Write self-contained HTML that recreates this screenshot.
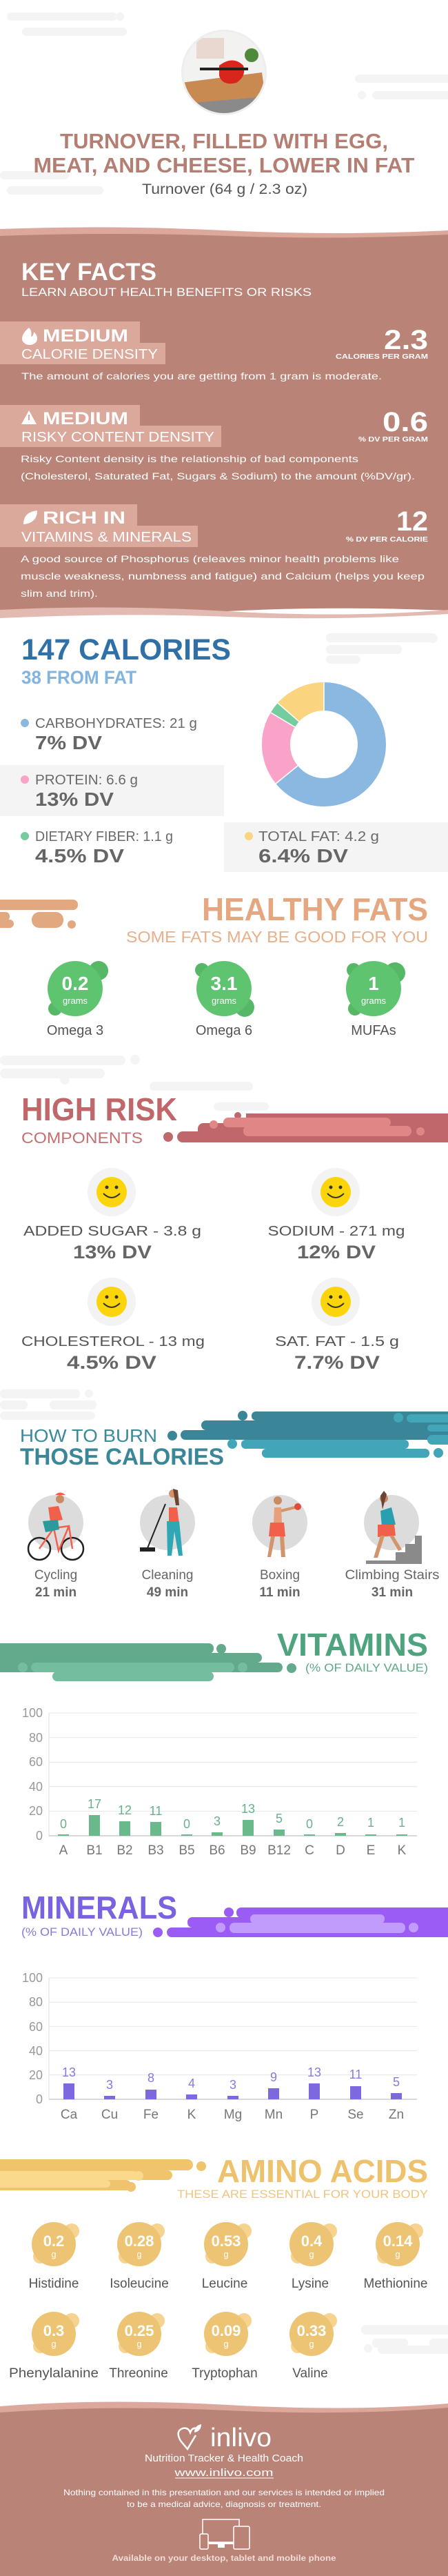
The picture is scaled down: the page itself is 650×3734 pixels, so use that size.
<!DOCTYPE html>
<html><head><meta charset="utf-8"><style>html,body{margin:0;padding:0;background:#fff}svg{display:block}text{font-family:"Liberation Sans",sans-serif}</style></head><body>
<svg width="650" height="3734" viewBox="0 0 650 3734" xmlns="http://www.w3.org/2000/svg">
<rect width="650" height="3734" fill="#fff"/>
<!-- top clouds -->
<g fill="#f4f4f4"><rect x="10" y="18" width="160" height="12" rx="6"/><rect x="32" y="40" width="152" height="12" rx="6"/><circle cx="174" cy="24" r="6"/><rect x="515" y="108" width="140" height="12" rx="6"/><rect x="540" y="132" width="120" height="12" rx="6"/><circle cx="525" cy="138" r="6"/><rect x="0" y="248" width="100" height="12" rx="6"/><rect x="10" y="270" width="140" height="12" rx="6"/></g>
<!-- photo -->
<circle cx="325" cy="105" r="62" fill="#eee"/>
<clipPath id="ph"><circle cx="325" cy="105" r="59"/></clipPath>
<g clip-path="url(#ph)"><rect x="260" y="40" width="130" height="130" fill="#f2f2f0"/><rect x="260" y="130" width="130" height="40" fill="#8a8a8a"/><polygon points="262,120 380,105 385,140 270,150" fill="#c98a52"/><path d="M318 95 q20 -15 35 0 q5 15 -10 25 q-20 5 -25 -10z" fill="#d8261c"/><rect x="290" y="98" width="70" height="4" fill="#222"/><circle cx="365" cy="80" r="10" fill="#4f8a3a"/><rect x="285" y="55" width="40" height="30" fill="#e9d8cf"/></g>
<text x="325" y="215" text-anchor="middle" font-size="31" font-weight="bold" fill="#b57e72" textLength="476" lengthAdjust="spacingAndGlyphs">TURNOVER, FILLED WITH EGG,</text>
<text x="325" y="250" text-anchor="middle" font-size="31" font-weight="bold" fill="#b57e72" textLength="553" lengthAdjust="spacingAndGlyphs">MEAT, AND CHEESE, LOWER IN FAT</text>
<text x="326" y="281" text-anchor="middle" font-size="21" fill="#555" textLength="240" lengthAdjust="spacingAndGlyphs">Turnover (64 g / 2.3 oz)</text>
<!-- brown section -->
<path d="M0 332 Q160 326 325 334 T650 334 V345 H0Z" fill="#dca89c"/>
<path d="M0 342 Q170 336 330 342 T650 340 V885 Q480 878 330 886 T0 884Z" fill="#ba8377"/>
<path d="M0 884 Q160 876 330 886 T650 884 V890 Q480 900 330 894 T0 896Z" fill="#e2bab2"/>
<text x="31" y="406" font-size="35" font-weight="bold" fill="#fff" textLength="196" lengthAdjust="spacingAndGlyphs">KEY FACTS</text>
<text x="31" y="429" font-size="17" fill="#fff" textLength="421" lengthAdjust="spacingAndGlyphs">LEARN ABOUT HEALTH BENEFITS OR RISKS</text>
<g fill="#dba89c"><rect x="0" y="466" width="203" height="32"/><rect x="0" y="497" width="240" height="31"/><rect x="0" y="587" width="203" height="31"/><rect x="0" y="617" width="321" height="31"/><rect x="0" y="731" width="199" height="32"/><rect x="0" y="762" width="287" height="31"/></g>
<path d="M42 475 q-10 8 -10 16 a11 9 0 0 0 22 0 q0 -6 -5 -10 q0 6 -4 7 q2 -8 -3 -13z" fill="#fff"/>
<text x="62" y="495" font-size="25" font-weight="bold" fill="#fff" textLength="124" lengthAdjust="spacingAndGlyphs">MEDIUM</text>
<text x="31" y="520" font-size="20" fill="#fff" textLength="198" lengthAdjust="spacingAndGlyphs">CALORIE DENSITY</text>
<text x="621" y="506" text-anchor="end" font-size="40" font-weight="bold" fill="#fff" textLength="64" lengthAdjust="spacingAndGlyphs">2.3</text>
<text x="621" y="520" text-anchor="end" font-size="10" font-weight="bold" fill="#fff" textLength="134" lengthAdjust="spacingAndGlyphs">CALORIES PER GRAM</text>
<text x="31" y="550" font-size="14" fill="#fff" textLength="523" lengthAdjust="spacingAndGlyphs">The amount of calories you are getting from 1 gram is moderate.</text>
<polygon points="42,595 31,615 53,615" fill="#fff"/><rect x="41" y="601" width="2" height="8" fill="#dba89c"/>
<text x="62" y="615" font-size="25" font-weight="bold" fill="#fff" textLength="124" lengthAdjust="spacingAndGlyphs">MEDIUM</text>
<text x="31" y="640" font-size="20" fill="#fff" textLength="280" lengthAdjust="spacingAndGlyphs">RISKY CONTENT DENSITY</text>
<text x="621" y="625" text-anchor="end" font-size="40" font-weight="bold" fill="#fff" textLength="66" lengthAdjust="spacingAndGlyphs">0.6</text>
<text x="621" y="640" text-anchor="end" font-size="10" font-weight="bold" fill="#fff" textLength="101" lengthAdjust="spacingAndGlyphs">% DV PER GRAM</text>
<text x="30" y="670" font-size="14" fill="#fff" textLength="490" lengthAdjust="spacingAndGlyphs">Risky Content density is the relationship of bad components</text>
<text x="30" y="695" font-size="14" fill="#fff" textLength="572" lengthAdjust="spacingAndGlyphs">(Cholesterol, Saturated Fat, Sugars &amp; Sodium) to the amount (%DV/gr).</text>
<path d="M34 760 q0 -18 20 -20 q0 18 -20 20z" fill="#fff"/>
<text x="62" y="759" font-size="25" font-weight="bold" fill="#fff" textLength="120" lengthAdjust="spacingAndGlyphs">RICH  IN</text>
<text x="31" y="785" font-size="20" fill="#fff" textLength="247" lengthAdjust="spacingAndGlyphs">VITAMINS &amp; MINERALS</text>
<text x="621" y="769" text-anchor="end" font-size="40" font-weight="bold" fill="#fff" textLength="46" lengthAdjust="spacingAndGlyphs">12</text>
<text x="621" y="785" text-anchor="end" font-size="10" font-weight="bold" fill="#fff" textLength="119" lengthAdjust="spacingAndGlyphs">% DV PER CALORIE</text>
<text x="30" y="815" font-size="14" fill="#fff" textLength="549" lengthAdjust="spacingAndGlyphs">A good source of Phosphorus (releaves minor health problems like</text>
<text x="30" y="840" font-size="14" fill="#fff" textLength="586" lengthAdjust="spacingAndGlyphs">muscle weakness, numbness and fatigue) and Calcium (helps you keep</text>
<text x="30" y="865" font-size="14" fill="#fff" textLength="112" lengthAdjust="spacingAndGlyphs">slim and trim).</text>
<!-- calories -->
<g fill="#f4f4f4"><rect x="473" y="918" width="160" height="13" rx="6"/><circle cx="628" cy="925" r="7"/><rect x="473" y="935" width="110" height="13" rx="6"/><rect x="473" y="950" width="50" height="12" rx="6"/></g>
<text x="31" y="956" font-size="43" font-weight="bold" fill="#2f70a6" textLength="304" lengthAdjust="spacingAndGlyphs">147 CALORIES</text>
<text x="31" y="991" font-size="27" font-weight="bold" fill="#82b4de" textLength="167" lengthAdjust="spacingAndGlyphs">38 FROM FAT</text>
<rect x="0" y="1109" width="325" height="74" fill="#f4f4f4"/><rect x="325" y="1192" width="325" height="72" fill="#f4f4f4"/>
<g transform="rotate(-90 470 1079)" fill="none" stroke-width="41">
<circle cx="470" cy="1079" r="69.5" stroke="#8ab8e0" stroke-dasharray="280.2 436.7"/>
<circle cx="470" cy="1079" r="69.5" stroke="#f9a3c9" stroke-dasharray="84.9 436.7" stroke-dashoffset="-280.2"/>
<circle cx="470" cy="1079" r="69.5" stroke="#75cc9e" stroke-dasharray="13.3 436.7" stroke-dashoffset="-365.1"/>
<circle cx="470" cy="1079" r="69.5" stroke="#fad47e" stroke-dasharray="58.3 436.7" stroke-dashoffset="-378.4"/>
</g>
<g stroke="#fff" stroke-width="1.5"><line x1="470" y1="989" x2="470" y2="1030"/><line x1="400" y1="1136" x2="432" y2="1110"/><line x1="393" y1="1033" x2="428" y2="1054"/><line x1="403" y1="1019" x2="434" y2="1046"/></g>
<circle cx="36" cy="1048" r="6" fill="#8ab8e0"/>
<text x="51" y="1055" font-size="20" fill="#6a6a6a" textLength="235" lengthAdjust="spacingAndGlyphs">CARBOHYDRATES: 21 g</text>
<text x="51" y="1086" font-size="28" font-weight="bold" fill="#666" textLength="97" lengthAdjust="spacingAndGlyphs">7% DV</text>
<circle cx="36" cy="1130" r="6" fill="#f9a3c9"/>
<text x="51" y="1137" font-size="20" fill="#6a6a6a" textLength="149" lengthAdjust="spacingAndGlyphs">PROTEIN: 6.6 g</text>
<text x="51" y="1168" font-size="28" font-weight="bold" fill="#666" textLength="114" lengthAdjust="spacingAndGlyphs">13% DV</text>
<circle cx="36" cy="1212" r="6" fill="#75cc9e"/>
<text x="51" y="1219" font-size="20" fill="#6a6a6a" textLength="200" lengthAdjust="spacingAndGlyphs">DIETARY FIBER: 1.1 g</text>
<text x="51" y="1250" font-size="28" font-weight="bold" fill="#666" textLength="129" lengthAdjust="spacingAndGlyphs">4.5% DV</text>
<circle cx="361" cy="1212" r="6" fill="#fad47e"/>
<text x="375" y="1219" font-size="20" fill="#6a6a6a" textLength="175" lengthAdjust="spacingAndGlyphs">TOTAL FAT: 4.2 g</text>
<text x="375" y="1250" font-size="28" font-weight="bold" fill="#666" textLength="130" lengthAdjust="spacingAndGlyphs">6.4% DV</text>
<!-- healthy fats -->
<g fill="#e2a880"><rect x="-10" y="1304" width="123" height="15" rx="7"/><rect x="-10" y="1322" width="24" height="13" rx="6"/><rect x="46" y="1322" width="46" height="23" rx="11"/><circle cx="104" cy="1340" r="6"/><rect x="-10" y="1333" width="30" height="12" rx="6"/></g>
<text x="621" y="1334" text-anchor="end" font-size="46" font-weight="bold" fill="#e5a77f" textLength="328" lengthAdjust="spacingAndGlyphs">HEALTHY FATS</text>
<text x="621" y="1366" text-anchor="end" font-size="23" fill="#e8b08a" textLength="438" lengthAdjust="spacingAndGlyphs">SOME FATS MAY BE GOOD FOR YOU</text>
<g fill="#56b866"><circle cx="143" cy="1407" r="14"/><circle cx="80" cy="1462" r="10"/><circle cx="293" cy="1406" r="10"/><circle cx="355" cy="1460" r="14"/><circle cx="513" cy="1406" r="10"/><circle cx="573" cy="1410" r="15"/><circle cx="515" cy="1462" r="10"/></g>
<g fill="#5fc470"><circle cx="109" cy="1433" r="40"/><circle cx="325" cy="1433" r="40"/><circle cx="542" cy="1433" r="40"/></g>
<g fill="#fff" text-anchor="middle"><text x="109" y="1435" font-size="28" font-weight="bold">0.2</text><text x="325" y="1435" font-size="28" font-weight="bold">3.1</text><text x="542" y="1435" font-size="28" font-weight="bold">1</text><text x="109" y="1455" font-size="13">grams</text><text x="325" y="1455" font-size="13">grams</text><text x="542" y="1455" font-size="13">grams</text></g>
<g fill="#555" text-anchor="middle" font-size="20"><text x="109" y="1500">Omega 3</text><text x="325" y="1500">Omega 6</text><text x="542" y="1500">MUFAs</text></g>
<!-- high risk -->
<g fill="#f4f4f4"><rect x="0" y="1530" width="182" height="14" rx="7"/><circle cx="196" cy="1536" r="7"/><rect x="0" y="1549" width="152" height="14" rx="7"/><circle cx="94" cy="1565" r="7"/><rect x="217" y="1568" width="150" height="13" rx="6"/><rect x="310" y="1598" width="80" height="12" rx="6"/></g>
<text x="31" y="1624" font-size="46" font-weight="bold" fill="#c0676a" textLength="226" lengthAdjust="spacingAndGlyphs">HIGH RISK</text>
<text x="31" y="1657" font-size="22" fill="#c66f70" textLength="176" lengthAdjust="spacingAndGlyphs">COMPONENTS</text>
<g fill="#bf676a"><rect x="357" y="1614" width="320" height="42"/><rect x="287" y="1628" width="90" height="28" rx="8"/><rect x="257" y="1640" width="60" height="16" rx="8"/><circle cx="244" cy="1648" r="7"/><circle cx="345" cy="1617" r="5"/></g>
<g fill="#e08687"><rect x="324" y="1620" width="243" height="14" rx="7"/><rect x="353" y="1632" width="244" height="15" rx="7"/><circle cx="310" cy="1630" r="6"/><circle cx="610" cy="1640" r="6"/></g>
<g><circle cx="162" cy="1728" r="35" fill="#f3f3f3"/><circle cx="487" cy="1728" r="35" fill="#f3f3f3"/><circle cx="162" cy="1887" r="35" fill="#f3f3f3"/><circle cx="487" cy="1887" r="35" fill="#f3f3f3"/></g>
<g id="sm"><circle cx="162" cy="1728" r="22" fill="#fcd40a"/><circle cx="155" cy="1721" r="2.5" fill="#333"/><circle cx="169" cy="1721" r="2.5" fill="#333"/><path d="M150 1730 q12 12 24 0" stroke="#333" stroke-width="2" fill="none"/></g>
<use href="#sm" x="325"/><use href="#sm" y="159"/><use href="#sm" x="325" y="159"/>
<g fill="#555" text-anchor="middle" font-size="20"><text x="163" y="1791" textLength="258" lengthAdjust="spacingAndGlyphs">ADDED SUGAR - 3.8 g</text><text x="488" y="1791" textLength="199" lengthAdjust="spacingAndGlyphs">SODIUM - 271 mg</text><text x="164" y="1951" textLength="266" lengthAdjust="spacingAndGlyphs">CHOLESTEROL - 13 mg</text><text x="489" y="1951" textLength="180" lengthAdjust="spacingAndGlyphs">SAT. FAT - 1.5 g</text></g>
<g fill="#666" text-anchor="middle" font-size="27" font-weight="bold"><text x="163" y="1824" textLength="114" lengthAdjust="spacingAndGlyphs">13% DV</text><text x="488" y="1824" textLength="114" lengthAdjust="spacingAndGlyphs">12% DV</text><text x="162" y="1984" textLength="130" lengthAdjust="spacingAndGlyphs">4.5% DV</text><text x="489" y="1984" textLength="124" lengthAdjust="spacingAndGlyphs">7.7% DV</text></g>
<!-- burn -->
<g fill="#f4f4f4"><rect x="0" y="2014" width="116" height="13" rx="6"/><circle cx="129" cy="2020" r="6"/><rect x="0" y="2030" width="40" height="13" rx="6"/><rect x="72" y="2030" width="68" height="13" rx="6"/><rect x="0" y="2046" width="138" height="12" rx="6"/></g>
<g fill="#3a8597"><rect x="365" y="2046" width="300" height="13" rx="6"/><circle cx="352" cy="2052" r="7"/><rect x="292" y="2059" width="370" height="14" rx="7"/><rect x="262" y="2073" width="400" height="14" rx="7"/><circle cx="250" cy="2081" r="7"/></g>
<g fill="#42a5b8"><rect x="590" y="2050" width="70" height="12" rx="6"/><circle cx="578" cy="2055" r="7"/><rect x="620" y="2065" width="40" height="10" rx="5"/><rect x="350" y="2087" width="243" height="13" rx="6"/><circle cx="337" cy="2093" r="7"/><rect x="380" y="2100" width="243" height="13" rx="6"/><circle cx="636" cy="2106" r="7"/><rect x="620" y="2080" width="40" height="14" rx="7"/></g>
<text x="29" y="2090" font-size="26" fill="#3b8a9b" textLength="199" lengthAdjust="spacingAndGlyphs">HOW TO BURN</text>
<text x="29" y="2123" font-size="34" font-weight="bold" fill="#3a8797" textLength="296" lengthAdjust="spacingAndGlyphs">THOSE CALORIES</text>
<g fill="#dcdcdc"><circle cx="81" cy="2207" r="40"/><circle cx="243" cy="2207" r="40"/><circle cx="406" cy="2207" r="40"/><circle cx="568" cy="2207" r="40"/></g>
<!-- cyclist -->
<g fill="none" stroke="#222" stroke-width="2.5"><circle cx="57" cy="2245" r="16"/><circle cx="105" cy="2245" r="16"/></g>
<g stroke="#f0604a" stroke-width="2.5" fill="none"><path d="M57 2245 L78 2215 L100 2212 L105 2245 M78 2215 L85 2248 L100 2212"/></g>
<path d="M70 2185 l15 -2 l6 20 l-18 3z" fill="#f0604a"/><path d="M62 2205 l22 -2 l2 14 l-20 4z" fill="#2a9a9b"/><circle cx="87" cy="2173" r="6" fill="#c98b63"/><path d="M80 2167 q7 -7 15 0z" fill="#f0604a"/>
<!-- cleaner -->
<line x1="214" y1="2244" x2="240" y2="2180" stroke="#222" stroke-width="2"/><rect x="203" y="2243" width="22" height="6" fill="#222"/><path d="M245 2185 l12 0 l3 25 l-15 0z" fill="#f0604a"/><path d="M242 2205 l18 0 l5 50 l-6 0 l-6 -35 l-4 35 l-6 0z" fill="#30a7b5"/><circle cx="251" cy="2165" r="6" fill="#d2946b"/><path d="M251 2158 l7 2 l2 22 l-5 0z" fill="#6b4532"/>
<!-- boxer -->
<path d="M398 2185 l10 0 l1 22 l-12 0z" fill="#e8a07a"/><path d="M392 2207 l20 0 l2 20 l-24 0z" fill="#f0604a"/><path d="M393 2227 l6 0 l-6 30 l-5 0z M406 2227 l6 0 l2 30 l-6 0z" fill="#d2946b"/><line x1="408" y1="2190" x2="428" y2="2185" stroke="#d2946b" stroke-width="4"/><circle cx="432" cy="2184" r="5" fill="#e24b3c"/><circle cx="403" cy="2175" r="6" fill="#c98b63"/>
<!-- stairs -->
<path d="M531 2267 h81 v-41 h-10 v12 h-14 v12 h-14 v12 h-43z" fill="#8a8a8a"/><path d="M552 2190 l16 -5 l6 25 l-20 3z" fill="#2a9fb0"/><path d="M548 2210 l24 0 l2 16 l-26 2z" fill="#f0604a"/><path d="M552 2226 l6 0 l-10 32 l-6 0z M565 2226 l6 0 l12 20 l-5 2z" fill="#d2946b"/><circle cx="557" cy="2172" r="6" fill="#c98b63"/><path d="M552 2168 l5 -7 l4 5 l-6 22z" fill="#6b4532"/>
<g fill="#666" text-anchor="middle" font-size="19"><text x="81" y="2289">Cycling</text><text x="243" y="2289">Cleaning</text><text x="406" y="2289">Boxing</text><text x="569" y="2289" textLength="137" lengthAdjust="spacingAndGlyphs">Climbing Stairs</text></g>
<g fill="#666" text-anchor="middle" font-size="19" font-weight="bold"><text x="81" y="2314">21 min</text><text x="243" y="2314">49 min</text><text x="406" y="2314">11 min</text><text x="569" y="2314">31 min</text></g>
<!-- vitamins -->
<g fill="#63aa8c"><rect x="-10" y="2382" width="320" height="15" rx="7"/><circle cx="321" cy="2390" r="7"/><rect x="-10" y="2396" width="390" height="14" rx="7"/><rect x="-10" y="2410" width="420" height="14" rx="7"/><circle cx="423" cy="2418" r="7"/></g>
<g fill="#74bd9e"><rect x="45" y="2410" width="295" height="14" rx="7"/><circle cx="33" cy="2417" r="7"/><circle cx="352" cy="2417" r="7"/><rect x="76" y="2423" width="234" height="14" rx="7"/></g>
<text x="621" y="2400" text-anchor="end" font-size="46" font-weight="bold" fill="#4fa47f" textLength="219" lengthAdjust="spacingAndGlyphs">VITAMINS</text>
<text x="621" y="2423" text-anchor="end" font-size="17" fill="#5daa85" textLength="178" lengthAdjust="spacingAndGlyphs">(% OF DAILY VALUE)</text>
<g stroke="#e4e4e4" stroke-width="1"><line x1="71" y1="2483" x2="605" y2="2483"/><line x1="71" y1="2518.6" x2="605" y2="2518.6"/><line x1="71" y1="2554.2" x2="605" y2="2554.2"/><line x1="71" y1="2589.8" x2="605" y2="2589.8"/><line x1="71" y1="2625.4" x2="605" y2="2625.4"/></g>
<line x1="71" y1="2661" x2="605" y2="2661" stroke="#ccc" stroke-width="1.5"/><line x1="71" y1="2483" x2="71" y2="2661" stroke="#ddd"/>
<g fill="#999" text-anchor="end" font-size="18"><text x="62" y="2489">100</text><text x="62" y="2525">80</text><text x="62" y="2560">60</text><text x="62" y="2596">40</text><text x="62" y="2631">20</text><text x="62" y="2667">0</text></g>
<g fill="#6ab98a">
<rect x="84" y="2659" width="16" height="2"/><rect x="129" y="2631" width="16" height="30"/><rect x="173" y="2640" width="16" height="21"/><rect x="218" y="2641" width="16" height="20"/><rect x="263" y="2659" width="16" height="2"/><rect x="307" y="2656" width="16" height="5"/><rect x="352" y="2638" width="16" height="23"/><rect x="397" y="2652" width="16" height="9"/><rect x="441" y="2659" width="16" height="2"/><rect x="486" y="2657" width="16" height="4"/><rect x="530" y="2659" width="16" height="2"/><rect x="575" y="2659" width="16" height="2"/></g>
<g fill="#6ab08a" text-anchor="middle" font-size="18"><text x="92" y="2650">0</text><text x="137" y="2621">17</text><text x="181" y="2630">12</text><text x="226" y="2631">11</text><text x="271" y="2650">0</text><text x="315" y="2646">3</text><text x="360" y="2628">13</text><text x="405" y="2642">5</text><text x="449" y="2650">0</text><text x="494" y="2647">2</text><text x="538" y="2648">1</text><text x="583" y="2648">1</text></g>
<g fill="#777" text-anchor="middle" font-size="19"><text x="92" y="2688">A</text><text x="137" y="2688">B1</text><text x="181" y="2688">B2</text><text x="226" y="2688">B3</text><text x="271" y="2688">B5</text><text x="315" y="2688">B6</text><text x="360" y="2688">B9</text><text x="405" y="2688">B12</text><text x="449" y="2688">C</text><text x="494" y="2688">D</text><text x="538" y="2688">E</text><text x="583" y="2688">K</text></g>
<!-- minerals -->
<g fill="#9a5cf5"><rect x="343" y="2765" width="320" height="15" rx="7"/><circle cx="332" cy="2772" r="7"/><rect x="272" y="2779" width="390" height="15" rx="7"/><rect x="242" y="2794" width="420" height="14" rx="7"/><circle cx="229" cy="2801" r="7"/></g>
<g fill="#c29cfc"><rect x="363" y="2775" width="195" height="13" rx="6"/><rect x="333" y="2787" width="255" height="15" rx="7"/><circle cx="320" cy="2794" r="7"/><circle cx="600" cy="2794" r="7"/></g>
<text x="31" y="2781" font-size="46" font-weight="bold" fill="#7b63df" textLength="226" lengthAdjust="spacingAndGlyphs">MINERALS</text>
<text x="31" y="2806" font-size="17" fill="#8a79d9" textLength="176" lengthAdjust="spacingAndGlyphs">(% OF DAILY VALUE)</text>
<g stroke="#e4e4e4" stroke-width="1"><line x1="71" y1="2867" x2="605" y2="2867"/><line x1="71" y1="2902.2" x2="605" y2="2902.2"/><line x1="71" y1="2937.4" x2="605" y2="2937.4"/><line x1="71" y1="2972.6" x2="605" y2="2972.6"/><line x1="71" y1="3007.8" x2="605" y2="3007.8"/></g>
<line x1="71" y1="3043" x2="605" y2="3043" stroke="#ccc" stroke-width="1.5"/><line x1="71" y1="2867" x2="71" y2="3043" stroke="#ddd"/>
<g fill="#999" text-anchor="end" font-size="18"><text x="62" y="2873">100</text><text x="62" y="2908">80</text><text x="62" y="2944">60</text><text x="62" y="2979">40</text><text x="62" y="3014">20</text><text x="62" y="3049">0</text></g>
<g fill="#7d68e0"><rect x="92" y="3020" width="16" height="23"/><rect x="151" y="3038" width="16" height="5"/><rect x="211" y="3029" width="16" height="14"/><rect x="270" y="3036" width="16" height="7"/><rect x="330" y="3038" width="16" height="5"/><rect x="389" y="3027" width="16" height="16"/><rect x="448" y="3020" width="16" height="23"/><rect x="508" y="3024" width="16" height="19"/><rect x="567" y="3034" width="16" height="9"/></g>
<g fill="#8a79e0" text-anchor="middle" font-size="18"><text x="100" y="3010">13</text><text x="159" y="3028">3</text><text x="219" y="3018">8</text><text x="278" y="3026">4</text><text x="338" y="3028">3</text><text x="397" y="3017">9</text><text x="456" y="3010">13</text><text x="516" y="3013">11</text><text x="575" y="3024">5</text></g>
<g fill="#777" text-anchor="middle" font-size="19"><text x="100" y="3071">Ca</text><text x="159" y="3071">Cu</text><text x="219" y="3071">Fe</text><text x="278" y="3071">K</text><text x="338" y="3071">Mg</text><text x="397" y="3071">Mn</text><text x="456" y="3071">P</text><text x="516" y="3071">Se</text><text x="575" y="3071">Zn</text></g>
<!-- amino -->
<g fill="#efc46c"><rect x="-10" y="3130" width="290" height="16" rx="8"/><circle cx="292" cy="3140" r="7"/><rect x="-10" y="3146" width="260" height="14" rx="7"/><rect x="-10" y="3160" width="200" height="15" rx="7"/><circle cx="190" cy="3170" r="7"/></g>
<g fill="#fad88c"><rect x="-10" y="3147" width="210" height="13" rx="6"/><circle cx="201" cy="3154" r="7"/><rect x="-10" y="3160" width="170" height="11" rx="5"/></g>
<text x="621" y="3163" text-anchor="end" font-size="46" font-weight="bold" fill="#eec26c" textLength="306" lengthAdjust="spacingAndGlyphs">AMINO ACIDS</text>
<text x="621" y="3186" text-anchor="end" font-size="17" fill="#eec57e" textLength="364" lengthAdjust="spacingAndGlyphs">THESE ARE ESSENTIAL FOR YOUR BODY</text>
<g id="am"><circle cx="104" cy="3234" r="11" fill="#f6d38f"/><circle cx="58" cy="3271" r="10" fill="#f6d38f"/><circle cx="78" cy="3253" r="32" fill="#ecc474"/></g>
<use href="#am" x="124"/><use href="#am" x="250"/><use href="#am" x="374"/><use href="#am" x="499"/>
<use href="#am" y="130"/><use href="#am" x="124" y="130"/><use href="#am" x="250" y="130"/><use href="#am" x="374" y="130"/>
<g fill="#fff" text-anchor="middle" font-size="22" font-weight="bold"><text x="78" y="3256">0.2</text><text x="202" y="3256">0.28</text><text x="328" y="3256">0.53</text><text x="452" y="3256">0.4</text><text x="577" y="3256">0.14</text><text x="78" y="3386">0.3</text><text x="202" y="3386">0.25</text><text x="328" y="3386">0.09</text><text x="452" y="3386">0.33</text></g>
<g fill="#fff" text-anchor="middle" font-size="13"><text x="78" y="3272">g</text><text x="202" y="3272">g</text><text x="328" y="3272">g</text><text x="452" y="3272">g</text><text x="577" y="3272">g</text><text x="78" y="3402">g</text><text x="202" y="3402">g</text><text x="328" y="3402">g</text><text x="452" y="3402">g</text></g>
<g fill="#555" text-anchor="middle" font-size="19"><text x="78" y="3316">Histidine</text><text x="202" y="3316">Isoleucine</text><text x="326" y="3316">Leucine</text><text x="450" y="3316">Lysine</text><text x="574" y="3316">Methionine</text><text x="78" y="3446" textLength="130" lengthAdjust="spacingAndGlyphs">Phenylalanine</text><text x="201" y="3446">Threonine</text><text x="326" y="3446">Tryptophan</text><text x="450" y="3446">Valine</text></g>
<g fill="#f4f4f4"><rect x="524" y="3370" width="140" height="14" rx="7"/><rect x="540" y="3390" width="52" height="13" rx="6"/><rect x="623" y="3390" width="40" height="13" rx="6"/><circle cx="534" cy="3404" r="6"/><rect x="548" y="3400" width="110" height="12" rx="6"/></g>
<!-- footer -->
<path d="M0 3488 Q150 3476 330 3486 T650 3484 V3500 H0Z" fill="#dca89c"/>
<path d="M0 3497 Q160 3486 330 3494 T650 3490 V3734 H0Z" fill="#ba8377"/>
<path d="M262 3538 q-8 -14 3 -18 q8 -2 11 6 q3 -8 10 -6" stroke="#fff" stroke-width="2.5" fill="none"/><path d="M262 3538 l10 12 l12 -20" stroke="#fff" stroke-width="2.5" fill="none"/><path d="M282 3526 q0 -10 10 -12 q0 10 -10 12z" fill="#fff"/>
<text x="305" y="3546" font-size="38" fill="#fff" textLength="89" lengthAdjust="spacingAndGlyphs">inlivo</text>
<text x="325" y="3568" text-anchor="middle" font-size="15" fill="#fff" textLength="230" lengthAdjust="spacingAndGlyphs">Nutrition Tracker &amp; Health Coach</text>
<text x="325" y="3589" text-anchor="middle" font-size="15" fill="#fff" textLength="143" lengthAdjust="spacingAndGlyphs">www.inlivo.com</text>
<line x1="254" y1="3592" x2="397" y2="3592" stroke="#fff" stroke-width="1"/>
<text x="325" y="3617" text-anchor="middle" font-size="12" fill="#fff" textLength="466" lengthAdjust="spacingAndGlyphs">Nothing contained in this presentation and our services is intended or implied</text>
<text x="325" y="3634" text-anchor="middle" font-size="12" fill="#fff" textLength="282" lengthAdjust="spacingAndGlyphs">to be a medical advice, diagnosis or treatment.</text>
<g stroke="#fff" stroke-width="1.5" fill="none"><rect x="294" y="3652" width="53" height="33"/><rect x="290" y="3673" width="12" height="22" rx="2" fill="#ba8377"/><rect x="339" y="3662" width="23" height="33" rx="2" fill="#ba8377"/></g>
<rect x="303" y="3685" width="36" height="3" fill="#fff"/><rect x="316" y="3688" width="10" height="5" fill="#fff"/>
<text x="325" y="3712" text-anchor="middle" font-size="12" font-weight="bold" fill="#f0dcd7" textLength="325" lengthAdjust="spacingAndGlyphs">Available on your desktop, tablet and mobile phone</text>
</svg>
</body></html>
